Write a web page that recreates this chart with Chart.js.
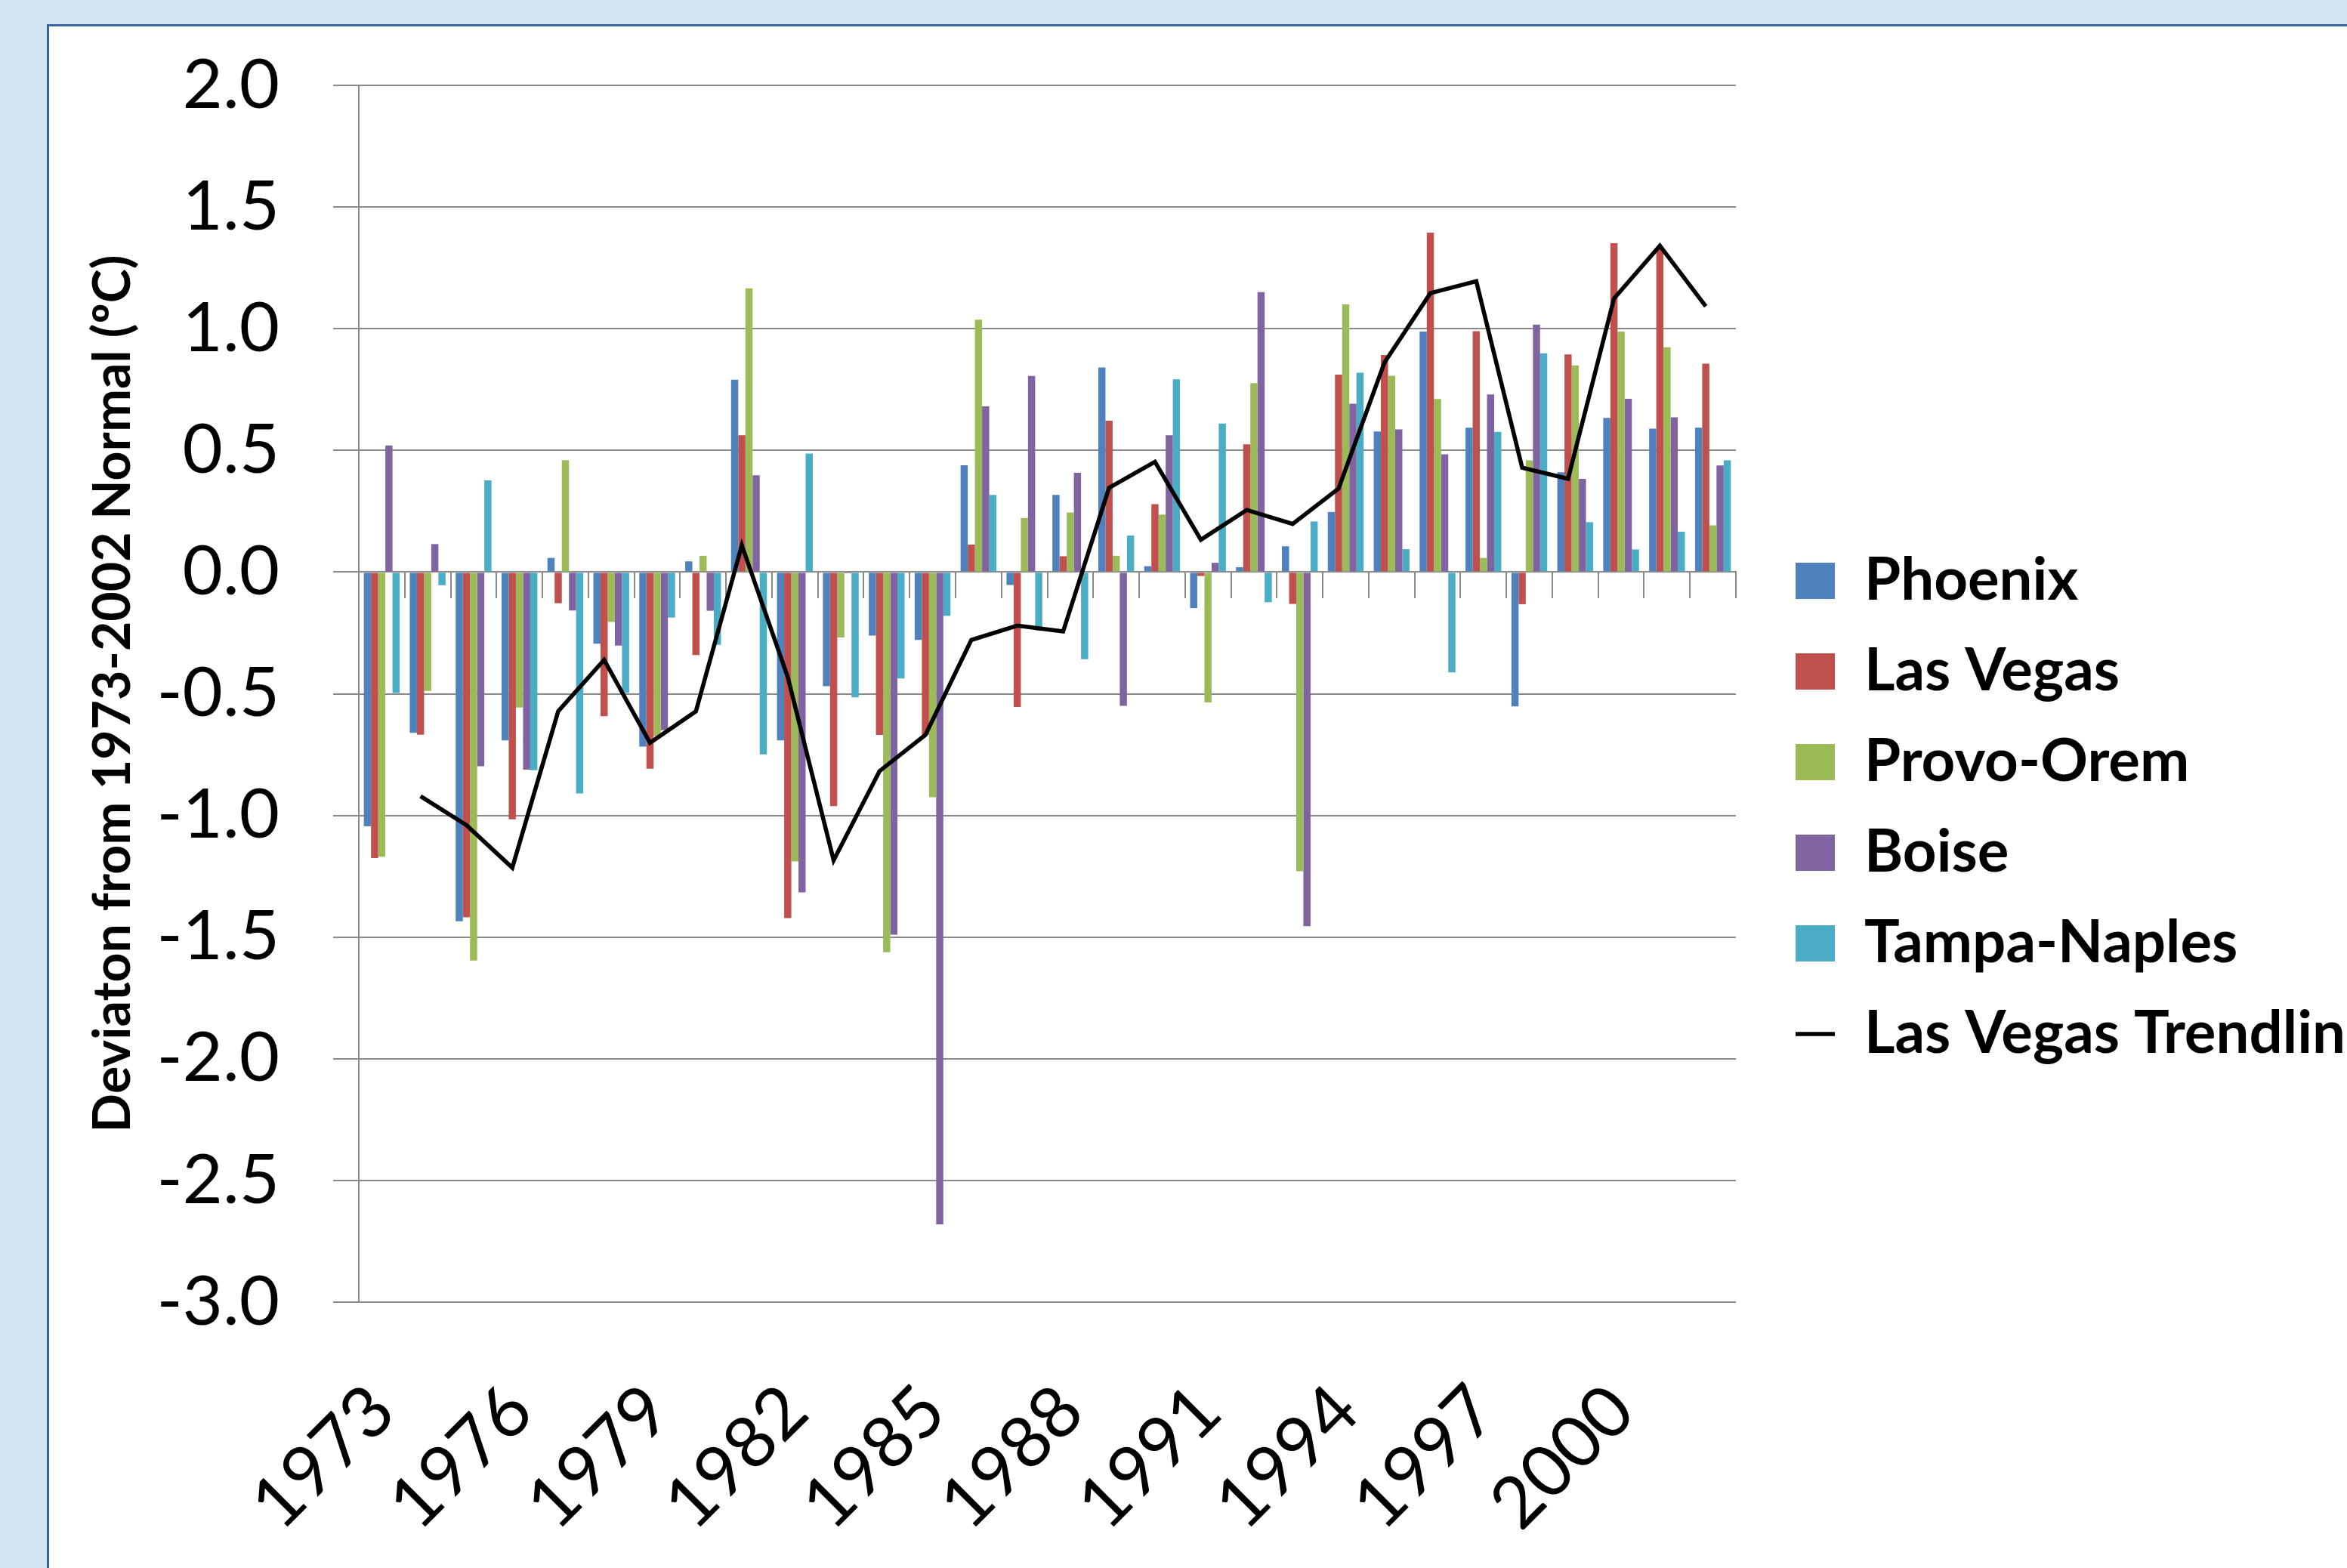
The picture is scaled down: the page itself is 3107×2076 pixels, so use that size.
<!DOCTYPE html>
<html>
<head>
<meta charset="utf-8">
<script src="https://cdn.jsdelivr.net/npm/chart.js@4.4.1/dist/chart.umd.min.js"></script>
<style>
  html, body { margin: 0; padding: 0; width: 3107px; height: 2076px; overflow: hidden; }
  body { background: #d3e4f4; position: relative; }
  #frame { position: absolute; left: 62px; top: 32px; width: 3200px; height: 2200px; background: #ffffff; border: 3px solid #3a63a0; box-sizing: border-box; }
  #c { position: absolute; left: 0; top: 0; }
</style>
</head>
<body>
<div id="frame"></div>
<canvas id="c" width="3107" height="2076"></canvas>
<script>
const years = ['1973','1974','1975','1976','1977','1978','1979','1980','1981','1982','1983','1984','1985','1986','1987','1988','1989','1990','1991','1992','1993','1994','1995','1996','1997','1998','1999','2000','2001','2002'];
const shownYearLabels = ['1973','1976','1979','1982','1985','1988','1991','1994','1997','2000'];
const yTicks = [2.0, 1.5, 1.0, 0.5, 0.0, -0.5, -1.0, -1.5, -2.0, -2.5, -3.0];

const phoenix = [-1.045,-0.661,-1.435,-0.692,0.058,-0.294,-0.717,0.044,0.790,-0.692,-0.469,-0.261,-0.279,0.439,-0.053,0.317,0.841,0.024,-0.148,0.020,0.106,0.247,0.578,0.988,0.593,-0.552,0.410,0.634,0.589,0.593];
const lasVegas = [-1.175,-0.668,-1.419,-1.016,-0.128,-0.592,-0.808,-0.341,0.562,-1.422,-0.962,-0.669,-0.669,0.113,-0.554,0.065,0.622,0.279,-0.016,0.525,-0.131,0.811,0.892,1.395,0.990,-0.132,0.894,1.351,1.331,0.856];
const provoOrem = [-1.170,-0.488,-1.596,-0.557,0.460,-0.205,-0.675,0.067,1.166,-1.189,-0.269,-1.562,-0.925,1.037,0.222,0.245,0.067,0.236,-0.536,0.776,-1.229,1.100,0.807,0.711,0.058,0.459,0.849,0.988,0.924,0.192];
const boise = [0.520,0.115,-0.798,-0.812,-0.158,-0.302,-0.650,-0.159,0.398,-1.316,-0.005,-1.490,-2.680,0.681,0.806,0.408,-0.550,0.562,0.038,1.150,-1.455,0.692,0.586,0.484,0.730,1.017,0.383,0.712,0.636,0.438];
const tampaNaples = [-0.497,-0.054,0.377,-0.814,-0.910,-0.496,-0.187,-0.299,-0.749,0.487,-0.515,-0.437,-0.180,0.317,-0.240,-0.358,0.150,0.792,0.610,-0.124,0.208,0.819,0.094,-0.412,0.576,0.899,0.205,0.093,0.166,0.459];
const lasVegasTrend = [null,-0.921,-1.040,-1.215,-0.572,-0.361,-0.702,-0.572,0.110,-0.431,-1.184,-0.818,-0.669,-0.279,-0.220,-0.244,0.346,0.453,0.133,0.255,0.198,0.343,0.861,1.146,1.195,0.429,0.383,1.124,1.341,1.092];

const GRID = '#8a8a8a';
const barSeries = [
  { label: 'Phoenix', data: phoenix, color: '#4F81BD' },
  { label: 'Las Vegas', data: lasVegas, color: '#C0504D' },
  { label: 'Provo-Orem', data: provoOrem, color: '#9BBB59' },
  { label: 'Boise', data: boise, color: '#8064A2' },
  { label: 'Tampa-Naples', data: tampaNaples, color: '#4BACC6' }
];

// bar group fills 78% of a category; the trendline follows the Las Vegas (2nd) bar centres
const CAT_PCT = 0.78;
const redShift = 0.5 - CAT_PCT / 2 + 1.5 * CAT_PCT / 5;
const LEGEND_W = 772;

const datasets = barSeries.map(s => ({
  type: 'bar', indexAxis: 'x', label: s.label, data: s.data,
  backgroundColor: s.color, borderWidth: 0,
  categoryPercentage: CAT_PCT, barPercentage: 1.0,
  xAxisID: 'x', yAxisID: 'y', order: 1, pointStyle: 'rect'
}));
datasets.push({
  type: 'line', indexAxis: 'x', label: 'Las Vegas Trendline',
  data: lasVegasTrend.map((v, i) => ({ x: i, y: v })),
  borderColor: '#000000', backgroundColor: '#000000', borderWidth: 5.5,
  pointRadius: 0, tension: 0, spanGaps: false,
  xAxisID: 'xl', yAxisID: 'y', order: 0, pointStyle: 'line'
});

const legendWidthPlugin = {
  id: 'legendWidth',
  beforeLayout(chart) {
    const lg = chart.legend;
    if (lg && !lg._wPatched) {
      const orig = lg.fit;
      lg.fit = function () { orig.call(this); this.width = LEGEND_W; };
      lg._wPatched = true;
    }
  }
};

function draw() {
  new Chart(document.getElementById('c'), {
    data: { labels: years, datasets },
    plugins: [legendWidthPlugin],
    options: {
      indexAxis: 'y',
      responsive: false, animation: false, devicePixelRatio: 1,
      layout: { padding: { left: 0, right: 0, top: 113, bottom: 51 } },
      plugins: {
        tooltip: { enabled: false },
        legend: {
          position: 'right',
          labels: {
            font: { family: 'Lato', size: 78, weight: 'bold' },
            color: '#000000', padding: 42,
            usePointStyle: true, pointStyleWidth: 52, boxHeight: 48,
            sort: (a, b) => a.datasetIndex - b.datasetIndex
          }
        }
      },
      scales: {
        x: {
          type: 'category', axis: 'x', position: 'bottom', offset: true,
          grid: { display: false }, border: { display: false },
          ticks: {
            autoSkip: false, minRotation: 45, maxRotation: 45,
            padding: 80, labelOffset: 1,
            font: { family: 'Lato', size: 95, lineHeight: 1.2 }, color: '#000000',
            callback: function (v) { const l = this.getLabelForValue(v); return shownYearLabels.includes(l) ? l : ''; }
          },
          afterFit: s => { s.height = 301; }
        },
        x0: {
          type: 'category', axis: 'x', position: { y: 0 }, offset: true,
          grid: { offset: true, drawOnChartArea: false, drawTicks: true, tickLength: 34, color: GRID, lineWidth: 2 },
          border: { display: true, color: GRID, width: 2 },
          ticks: { display: false }
        },
        xl: { type: 'linear', axis: 'x', display: false, min: -redShift, max: years.length - redShift },
        y: {
          type: 'linear', axis: 'y', position: 'left', min: -3, max: 2,
          afterBuildTicks: s => { s.ticks = yTicks.map(v => ({ value: v })); },
          grid: { color: GRID, lineWidth: 2, tickLength: 34, drawTicks: true },
          border: { display: true, color: GRID, width: 2 },
          ticks: {
            padding: 71, color: '#000000',
            font: { family: 'Lato', size: 92, lineHeight: 0.9 },
            callback: v => Number(v).toFixed(1)
          },
          title: {
            display: true, text: 'Deviaton from 1973-2002 Normal (ºC)', color: '#000000',
            font: { family: 'Lato', size: 68, weight: 'bold', lineHeight: 1.2 },
            padding: { top: 109, bottom: 0 }
          },
          afterFit: s => { s.width = 475; }
        },
        yGap: {
          type: 'linear', axis: 'y', position: 'right', display: true,
          grid: { display: false }, border: { display: false }, ticks: { display: false },
          afterFit: s => { s.width = 37; }
        }
      }
    }
  });
}
if (document.fonts && document.fonts.load) {
  Promise.all([document.fonts.load('95px Lato'), document.fonts.load('bold 78px Lato')]).then(draw, draw);
} else { draw(); }
</script>
</body>
</html>
